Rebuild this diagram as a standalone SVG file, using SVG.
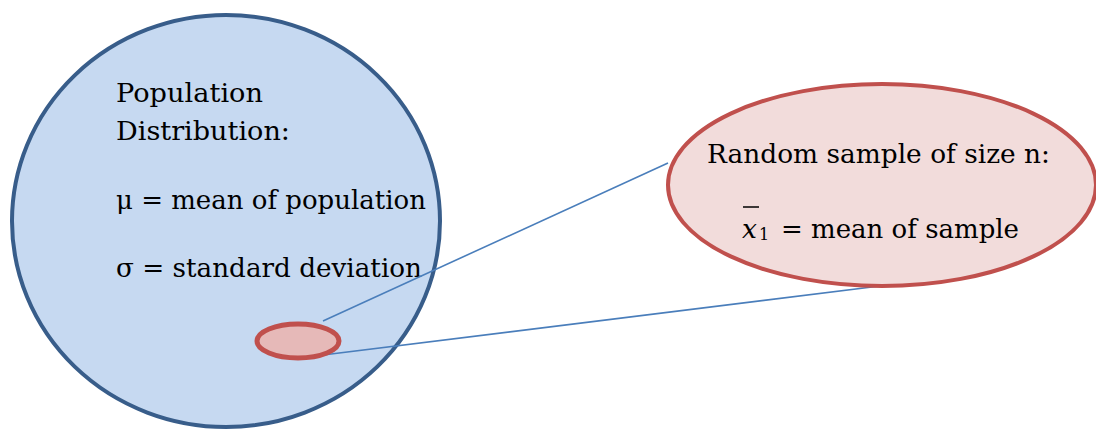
<svg xmlns="http://www.w3.org/2000/svg" width="1096" height="430" viewBox="0 0 1096 430">
<style>
.t{font-family:'DejaVu Serif','Liberation Serif',serif;font-size:26.5px;fill:#000}
.lnk{stroke:#4A7EBB;stroke-width:1.6;fill:none}
</style>
<rect width="1096" height="430" fill="#fff"/>
<g id="population">
<ellipse cx="226" cy="221" rx="214" ry="206" fill="#C6D9F1" stroke="#385D8A" stroke-width="4"/>
<text class="t" x="116" y="102" textLength="147" lengthAdjust="spacingAndGlyphs">Population</text>
<text class="t" x="116" y="140" textLength="174" lengthAdjust="spacingAndGlyphs">Distribution:</text>
<text class="t" x="116" y="209" textLength="310" lengthAdjust="spacingAndGlyphs">μ = mean of population</text>
<text class="t" x="116" y="277" textLength="306" lengthAdjust="spacingAndGlyphs">σ = standard deviation</text>
</g>
<g id="connectors">
<line class="lnk" x1="323" y1="321" x2="668" y2="163"/>
<line class="lnk" x1="323" y1="355" x2="880" y2="286"/>
</g>
<g id="sample-small">
<ellipse cx="298" cy="341" rx="41" ry="17" fill="#E6B9B8" stroke="#C0504D" stroke-width="5"/>
</g>
<g id="sample">
<ellipse cx="882" cy="185" rx="214" ry="101" fill="#F2DCDB" stroke="#C0504D" stroke-width="4"/>
<text class="t" x="707" y="163" textLength="343" lengthAdjust="spacingAndGlyphs">Random sample of size n:</text>
<line x1="743" y1="207" x2="759" y2="207" stroke="#000" stroke-width="1.5"/>
<text class="t" x="742" y="238" style="font-style:italic">x</text>
<text class="t" x="759" y="240" style="font-size:16px">1</text>
<text class="t" x="781" y="238" textLength="238" lengthAdjust="spacingAndGlyphs">= mean of sample</text>
</g>
</svg>
